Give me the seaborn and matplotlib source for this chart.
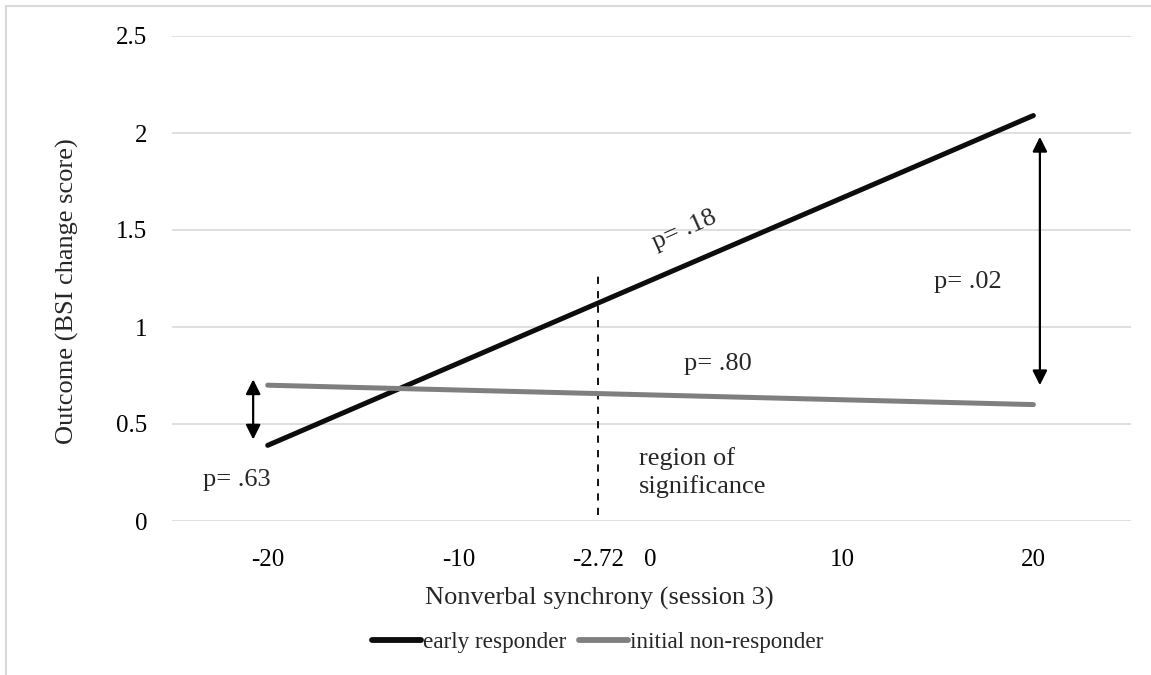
import matplotlib
matplotlib.use("Agg")
import matplotlib.pyplot as plt
import seaborn as sns
import pandas as pd
from matplotlib.lines import Line2D

# Simple slopes: predicted outcome at low / high synchrony
synchrony = [-20, 20]
early_responder = [0.39, 2.09]
initial_non_responder = [0.70, 0.60]
group_names = ["early responder", "initial non-responder"]

x_ticks = [-20, -10, -2.72, 0, 10, 20]
x_tick_labels = ["-20", "-10", "-2.72", "0", "10", "20"]
y_ticks = [0, 0.5, 1, 1.5, 2, 2.5]
y_tick_labels = ["0", "0.5", "1", "1.5", "2", "2.5"]

jn_point = -2.72  # Johnson-Neyman boundary
p_labels = {"p18": "p= .18", "p80": "p= .80", "p02": "p= .02", "p63": "p= .63"}

df = pd.DataFrame({
    "x": synchrony * 2,
    "y": early_responder + initial_non_responder,
    "group": [group_names[0]] * 2 + [group_names[1]] * 2,
})

sns.set_theme(style="white")
plt.rcParams["font.family"] = ["Liberation Serif", "DejaVu Serif"]
plt.rcParams["font.size"] = 18

fig = plt.figure(figsize=(11.51, 6.75), dpi=100)
ax = fig.add_axes([172 / 1151, 1 - 521 / 675, (1131 - 172) / 1151, (521 - 36) / 675])

colors = {group_names[0]: "#0d0d0d", group_names[1]: "#7f7f7f"}
sns.lineplot(data=df, x="x", y="y", hue="group", palette=colors, ax=ax,
             linewidth=3.6, legend=False, solid_capstyle="round", zorder=3)

ax.set_xlim(-25, 25.1)
ax.set_ylim(0, 2.5)
ax.set_xticks(x_ticks)
ax.set_xticklabels(x_tick_labels)
ax.set_yticks(y_ticks)
ax.set_yticklabels(y_tick_labels)
ax.tick_params(axis="both", length=0, labelsize=18, colors="#000000")
ax.tick_params(axis="y", pad=18)
ax.tick_params(axis="x", pad=20)
ax.grid(axis="y", color="#d9d9d9", linewidth=1.2)
ax.grid(axis="x", visible=False)
for s in ax.spines.values():
    s.set_visible(False)

ax.set_xlabel("Nonverbal synchrony (session 3)", fontsize=19)
ax.set_ylabel("Outcome (BSI change score)", fontsize=19)
ax.xaxis.set_label_coords((599 - 172) / 959, -(587 - 521) / 485)
ax.yaxis.set_label_coords(-(172 - 79) / 959, (521 - 291) / 485)

# Region of significance boundary
ax.plot([jn_point, jn_point], [0.03, 1.27], color="black", linestyle=(0, (4, 4)),
        linewidth=1.3, zorder=2)
ax.text(-0.6, 0.25, "region of\nsignificance", fontsize=19, ha="left", va="center",
        linespacing=1.25)

# Group difference arrows
arrow_kw = dict(arrowstyle="<|-|>", color="black", lw=1.6, mutation_scale=22,
                shrinkA=0, shrinkB=0)
ax.annotate("", xy=(-20.76, 0.42), xytext=(-20.76, 0.73), arrowprops=arrow_kw)
ax.annotate("", xy=(20.34, 0.70), xytext=(20.34, 1.98), arrowprops=arrow_kw)

ax.text(1.75, 1.5, p_labels["p18"], fontsize=19, rotation=24, ha="center", va="center")
ax.text(3.5, 0.81, p_labels["p80"], fontsize=19, ha="center", va="center")
ax.text(16.6, 1.23, p_labels["p02"], fontsize=19, ha="center", va="center")
ax.text(-21.6, 0.21, p_labels["p63"], fontsize=19, ha="center", va="center")

handles = [Line2D([0], [0], color=colors[g], lw=4.2, solid_capstyle="round") for g in group_names]
fig.legend(handles, group_names, loc="center", bbox_to_anchor=(598 / 1151, 1 - 642 / 675),
           ncol=2, frameon=False, fontsize=16.7, handlelength=2.1, handletextpad=0.1,
           columnspacing=0.55)

# Chart area border
fig.add_artist(Line2D([6 / 1151, 6 / 1151], [0, 1 - 6 / 675], color="#d9d9d9", lw=1.5,
                      transform=fig.transFigure))
fig.add_artist(Line2D([6 / 1151, 1], [1 - 6 / 675, 1 - 6 / 675], color="#d9d9d9", lw=1.5,
                      transform=fig.transFigure))

fig.savefig("out.png", dpi=100)
